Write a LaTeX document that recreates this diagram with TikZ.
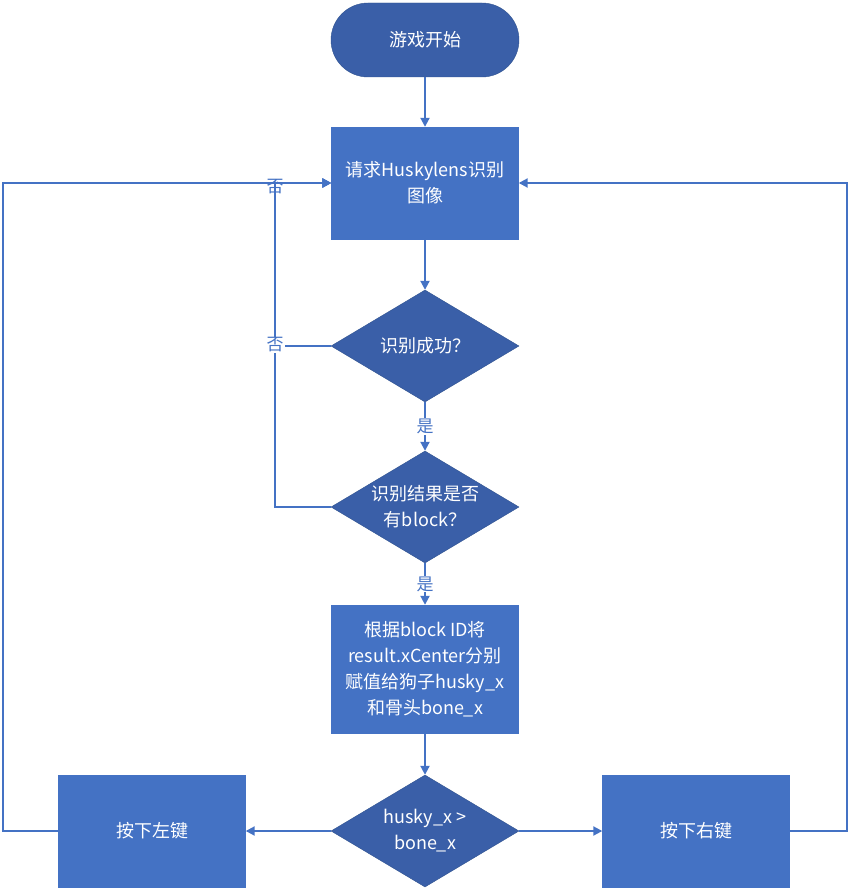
\documentclass[tikz,border=0pt]{standalone}
\usepackage{fontspec}
\setmainfont{Carlito}
\newfontfamily\cjk{Noto Sans CJK SC}
\usetikzlibrary{positioning}
\usetikzlibrary{shapes.geometric}
\usetikzlibrary{arrows.meta}
\definecolor{boxblue}{HTML}{4472C4}
\definecolor{darkblue}{HTML}{3A5FA8}
\definecolor{edgeblue}{HTML}{2F528F}
\tikzset{>={Triangle[length=9pt,width=9pt]}}
\tikzset{proc/.style={draw=boxblue, fill=boxblue, minimum width=187pt, minimum height=112pt, inner sep=0pt, align=center, text=white, font=\cjk\fontsize{18}{26}\selectfont}}
\tikzset{dec/.style={diamond, draw=edgeblue, fill=darkblue, minimum width=188pt, minimum height=112pt, aspect=1.68, inner sep=0pt, align=center, text=white, font=\cjk\fontsize{18}{26}\selectfont}}
\tikzset{term/.style={draw=edgeblue, fill=darkblue, rounded corners=37pt, minimum width=188pt, minimum height=74pt, text=white, font=\cjk\fontsize{18}{26}\selectfont}}
\tikzset{lbl/.style={fill=white, inner sep=1pt, text=boxblue, font=\cjk\fontsize{17}{20}\selectfont}}
\tikzset{line/.style={draw=boxblue, line width=2pt}}

\begin{document}
\begin{tikzpicture}[x=1pt,y=-1pt]
\useasboundingbox (0,0) rectangle (849,890);

\node[term] (start) at (425,40) {游戏开始};
\node[proc] (req) at (425,183) {请求Huskylens识别\\图像};
\node[dec] (ok) at (425,346) {识别成功？};
\node[dec] (blk) at (425,507) {识别结果是否\\有block？};
\node[proc, minimum height=128pt] (assign) at (425,669) {根据block ID将\\result.xCenter分别\\赋值给狗子husky\_x\\和骨头bone\_x};
\node[dec] (cmp) at (425,831) {husky\_x >\\bone\_x};
\node[proc] (left) at (152,831) {按下左键};
\node[proc] (right) at (696,831) {按下右键};

\coordinate (lx) at (275,183);
\coordinate (ox) at (3,183);
\coordinate (rx) at (847,183);

\draw[line,->] (start) -- (req);
\draw[line,->] (req) -- (ok);
\draw[line,->] (ok) -- node[lbl] {是} (blk);
\draw[line,->] (blk) -- node[lbl] {是} (assign);
\draw[line,->] (assign) -- (cmp);
\draw[line,->] (cmp) -- (left);
\draw[line,->] (cmp) -- (right);

\draw[line,->] (ok.west) -| node[lbl, pos=0.99] {否} (lx) -- (req.west);
\draw[line,->] (blk.west) -| node[lbl, pos=0.75] {否} (lx) -- (req.west);
\draw[line,->] (left.west) -| (ox) -- (req.west);
\draw[line,->] (right.east) -| (rx) -- (req.east);
\end{tikzpicture}
\end{document}
